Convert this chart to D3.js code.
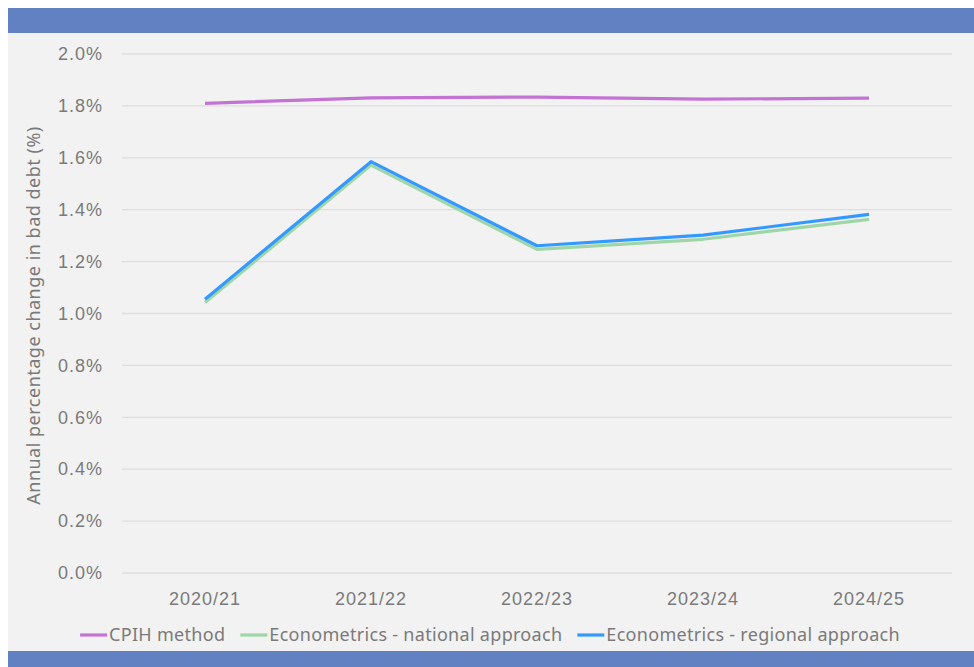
<!DOCTYPE html>
<html>
<head>
<meta charset="utf-8">
<script src="https://cdn.jsdelivr.net/npm/d3@7.9.0/dist/d3.min.js"></script>
<style>
  body { margin: 0; background: #fff; }
  svg { display: block; font-family: "Noto Sans", "Open Sans", sans-serif; }
</style>
</head>
<body>
<svg id="chart" width="974" height="667"></svg>
<script>
// data
const years = ['2020/21', '2021/22', '2022/23', '2023/24', '2024/25'];
const cpih = [1.810, 1.831, 1.834, 1.826, 1.830];
const national = [1.042, 1.572, 1.247, 1.286, 1.363];
const regional = [1.055, 1.585, 1.261, 1.302, 1.382];
const yTicks = [0, 0.2, 0.4, 0.6, 0.8, 1.0, 1.2, 1.4, 1.6, 1.8, 2.0];

const series = [
  { name: 'CPIH method', values: cpih, color: '#c373d3' },
  { name: 'Econometrics - national approach', values: national, color: '#9fd6a8' },
  { name: 'Econometrics - regional approach', values: regional, color: '#3399ff' },
];

const svg = d3.select('#chart');

// panel + bands
svg.append('rect').attr('x', 8).attr('y', 33).attr('width', 966).attr('height', 618).attr('fill', '#f2f2f2');
svg.append('rect').attr('x', 8).attr('y', 8).attr('width', 966).attr('height', 25).attr('fill', '#6181c2');
svg.append('rect').attr('x', 8).attr('y', 651).attr('width', 966).attr('height', 16).attr('fill', '#6181c2');

const margin = { left: 122, right: 952, top: 54, bottom: 573 };

let x = d3.scaleBand().domain(years).range([margin.left, margin.right]);
let y = d3.scaleLinear().domain([0, 2]).range([margin.bottom, margin.top]);

// gridlines
svg.append('g')
  .selectAll('line')
  .data(yTicks)
  .join('line')
  .attr('x1', margin.left).attr('x2', margin.right)
  .attr('y1', d => y(d)).attr('y2', d => y(d))
  .attr('stroke', '#dedede').attr('stroke-width', 1.3);

// y axis labels
let yAxis = d3.axisLeft(y).tickValues(yTicks).tickFormat(d => d.toFixed(1) + '%').tickSize(0).tickPadding(19);
let gy = svg.append('g').attr('transform', `translate(${margin.left},0)`).call(yAxis);
gy.select('.domain').remove();
gy.selectAll('text').attr('fill', '#7a7a7a').style('font-size', '18px').style('letter-spacing', '1px');

// x axis labels
let xAxis = d3.axisBottom(x).tickSize(0).tickPadding(19);
let gx = svg.append('g').attr('transform', `translate(0,${margin.bottom})`).call(xAxis);
gx.select('.domain').remove();
gx.selectAll('text').attr('fill', '#7a7a7a').style('font-size', '18px').style('letter-spacing', '1px');

// axis title
svg.append('text')
  .attr('transform', `translate(40,${(margin.top + margin.bottom) / 2 + 2}) rotate(-90)`)
  .attr('text-anchor', 'middle')
  .attr('fill', '#7a7a7a')
  .style('font-size', '18px')
  .style('letter-spacing', '0.5px')
  .text('Annual percentage change in bad debt (%)');

// lines
let line = d3.line()
  .x((d, i) => x(years[i]) + x.bandwidth() / 2)
  .y(d => y(d));

series.forEach(s => {
  svg.append('path')
    .attr('d', line(s.values))
    .attr('fill', 'none')
    .attr('stroke', s.color)
    .attr('stroke-width', 3.2)
    .attr('stroke-linejoin', 'round');
});

// legend, centred on the panel
let legend = svg.append('g');
let lx = 0;
series.forEach((s, i) => {
  let item = legend.append('g').attr('transform', `translate(${lx},0)`);
  item.append('line').attr('x1', 0).attr('x2', 27).attr('y1', 0).attr('y2', 0)
    .attr('stroke', s.color).attr('stroke-width', 3.2);
  let t = item.append('text').attr('x', 29).attr('y', 6)
    .attr('fill', '#7a7a7a').style('font-size', '18px').style('letter-spacing', '0.3px').text(s.name);
  lx += 29 + t.node().getComputedTextLength() + 15;
});
let legendWidth = lx - 15;
legend.attr('transform', `translate(${490 - legendWidth / 2},635)`);
</script>
</body>
</html>
